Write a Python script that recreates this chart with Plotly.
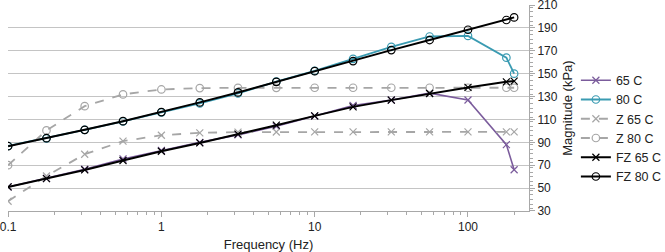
import plotly.graph_objects as go

freq = [0.1, 0.178, 0.316, 0.562, 1, 1.78, 3.16, 5.62, 10, 17.8, 31.6, 56.2, 100, 178, 200]

mag_65 = [51, 58.5, 66.5, 75.5, 83, 90, 96.5, 104, 113, 122.2, 127, 133, 127, 88, 66]
mag_80 = [86.8, 93.5, 100.8, 108.3, 116.2, 124, 132.7, 143, 152.5, 163, 173.5, 182.5, 183, 164, 150]
z_65 = [38.5, 60.6, 79.6, 91, 96.2, 98.3, 98.9, 99, 99.1, 99.1, 99.1, 99.1, 99.1, 99.1, 99.1]
z_80 = [70, 100.4, 121.6, 131.9, 136.2, 137.4, 137.6, 137.6, 137.7, 137.7, 137.7, 137.7, 137.7, 137.7, 137.7]
fz_65 = [51, 58.3, 65.9, 74.1, 82.2, 89.5, 97.1, 105, 113.1, 121, 126.9, 132.7, 138, 142.9, 143.5]
fz_80 = [86.6, 93.6, 100.9, 108.5, 116.4, 124.9, 133.6, 142.9, 152.2, 161, 170.6, 179.4, 188.4, 196.9, 199.2]

series = [
    ("65 C", mag_65, "#7b5c9c", "solid", "x-thin-open", 7, 1.6),
    ("80 C", mag_80, "#3a9bb2", "solid", "circle-open", 7.5, 1.8),
    ("Z 65 C", z_65, "#a6a6a6", "dash", "x-thin-open", 7, 1.8),
    ("Z 80 C", z_80, "#a6a6a6", "dash", "circle-open", 7.5, 1.8),
    ("FZ 65 C", fz_65, "#000000", "solid", "x-thin-open", 7, 2),
    ("FZ 80 C", fz_80, "#000000", "solid", "circle-open", 7.5, 2),
]

fig = go.Figure()
for name, ys, color, dash, sym, size, lw in series:
    fig.add_trace(go.Scatter(
        x=freq, y=ys, name=name, mode="lines+markers",
        line=dict(color=color, width=lw, dash=dash),
        marker=dict(symbol=sym, size=size, color=color, line=dict(color=color, width=1.2)),
    ))

fig.update_layout(
    width=665, height=252,
    margin=dict(l=8, r=136, t=5, b=41, autoexpand=False),
    paper_bgcolor="white", plot_bgcolor="white",
    font=dict(family="Liberation Sans, Arial, sans-serif", size=12, color="#222"),
    showlegend=True,
    legend=dict(x=1.09, y=0.40, xanchor="left", yanchor="middle",
                font=dict(size=12.5), itemwidth=30, tracegroupgap=0,
                bgcolor="rgba(0,0,0,0)"),
    xaxis=dict(
        type="log", range=[-1.0005, 2.398], dtick=1, automargin=False,
        ticklabeloverflow="allow",
        showgrid=False, showline=True, linecolor="#a8a8a8", linewidth=1,
        ticks="outside", ticklen=5, tickcolor="#a8a8a8",
        minor=dict(ticks="outside", ticklen=3, tickcolor="#a8a8a8", dtick="D1", showgrid=False),
        title=dict(text="Frequency (Hz)", standoff=6, font=dict(size=13)),
        zeroline=False,
    ),
    yaxis=dict(
        side="right", range=[29.98, 210.02], dtick=20, tick0=30, automargin=False,
        ticklabeloverflow="allow",
        showgrid=True, gridcolor="#c4c4c4", gridwidth=1,
        showline=True, linecolor="#a8a8a8", linewidth=1,
        ticks="outside", ticklen=5, tickcolor="#a8a8a8",
        minor=dict(ticks="outside", ticklen=3, tickcolor="#a8a8a8", dtick=4, showgrid=False),
        title=dict(text="Magnitude (kPa)", standoff=6, font=dict(size=13)),
        zeroline=False,
    ),
)

fig.write_html("out.html", config={"displayModeBar": False},
               post_script="document.body.style.margin='0';document.body.style.overflow='hidden';")
